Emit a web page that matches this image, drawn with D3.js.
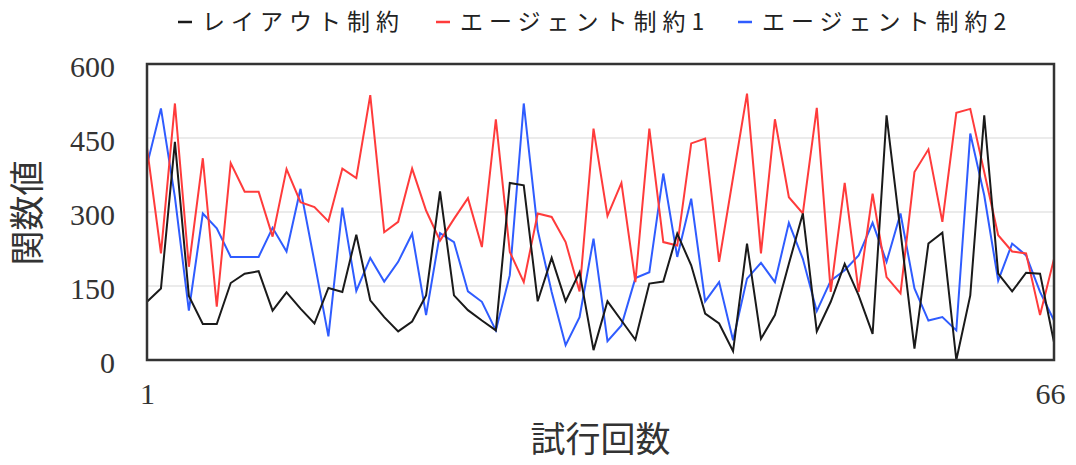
<!DOCTYPE html>
<html>
<head>
<meta charset="utf-8">
<script src="https://cdn.jsdelivr.net/npm/d3@7"></script>
<style>
  body { margin: 0; background: #fff; }
  svg { display: block; }
</style>
</head>
<body>
<div id="chart"></div>
<script>
// 試行回数 1..66
var trials = d3.range(1, 67);

var seriesNames = ["レイアウト制約", "エージェント制約1", "エージェント制約2"];
var seriesColors = ["#1a1a1a", "#ff3b3b", "#2f5cff"];

var layoutValues = [118, 145, 442, 130, 73, 73, 156, 175, 180, 100,
    137, 104, 74, 146, 138, 254, 121, 87, 58, 78,
    131, 342, 131, 101, 80, 60, 359, 354, 119, 207,
    119, 178, 20, 119, 80, 41, 155, 159, 256, 192,
    94, 74, 18, 236, 43, 91, 195, 297, 58, 118,
    195, 131, 53, 496, 260, 23, 236, 258, 0, 131,
    496, 175, 139, 177, 175, 36];

var agent1Values = [430, 216, 520, 189, 409, 108, 399, 341, 341, 250,
    387, 320, 310, 281, 388, 369, 537, 259, 280, 388,
    303, 242, 286, 328, 229, 488, 219, 158, 297, 290,
    239, 139, 469, 292, 359, 158, 469, 239, 232, 439,
    449, 199, 370, 540, 216, 488, 330, 297, 511, 138,
    359, 138, 337, 168, 135, 381, 427, 280, 501, 509,
    381, 253, 220, 216, 91, 205];

var agent2Values = [395, 510, 330, 100, 297, 267, 209, 209, 209, 268,
    220, 347, 199, 48, 309, 140, 207, 159, 199, 256,
    91, 257, 239, 139, 118, 60, 172, 520, 263, 138,
    30, 87, 246, 38, 70, 166, 178, 378, 209, 327,
    119, 158, 40, 165, 197, 158, 278, 205, 99, 161,
    182, 212, 278, 199, 297, 145, 80, 87, 60, 459,
    334, 161, 236, 212, 138, 80];

var yTicks = [0, 150, 300, 450, 600];
var xTickLabels = [1, 66];

(function () {
    "use strict";

    var W = 1076, H = 465;
    var plotLeft = 147, plotRight = 1054, plotTop = 64, plotBottom = 360;

    var svg = d3.select("#chart").append("svg")
        .attr("width", W)
        .attr("height", H);

    var x = d3.scaleLinear().domain([1, 66]).range([plotLeft, plotRight]);
    var y = d3.scaleLinear().domain([0, 600]).range([plotBottom, plotTop]);

    // gridlines
    svg.append("g")
        .selectAll("line")
        .data(yTicks.filter(function (d) { return d > 0 && d < 600; }))
        .enter().append("line")
        .attr("x1", plotLeft).attr("x2", plotRight)
        .attr("y1", function (d) { return y(d); })
        .attr("y2", function (d) { return y(d); })
        .attr("stroke", "#e4e4e4")
        .attr("stroke-width", 1.5);

    // y axis labels
    var yAxis = d3.axisLeft(y).tickValues(yTicks).tickSize(0).tickPadding(0);
    var yg = svg.append("g")
        .attr("transform", "translate(" + (plotLeft - 32) + ",0)")
        .call(yAxis);
    yg.select(".domain").remove();
    yg.selectAll("text")
        .attr("dy", "0.4em")
        .attr("fill", "#333")
        .attr("font-family", "'Liberation Serif', 'DejaVu Serif', serif")
        .attr("font-size", "30px");

    // x axis labels (only first and last)
    var xAxis = d3.axisBottom(x).tickValues(xTickLabels).tickSize(0).tickPadding(0);
    var xg = svg.append("g")
        .attr("transform", "translate(0," + (plotBottom + 32) + ")")
        .call(xAxis);
    xg.select(".domain").remove();
    xg.selectAll("text")
        .attr("dy", "0.4em")
        .attr("fill", "#333")
        .attr("font-family", "'Liberation Serif', 'DejaVu Serif', serif")
        .attr("font-size", "30px");
    xg.selectAll(".tick").filter(function (d) { return d === 66; })
        .select("text").attr("dx", "-4");

    // series lines
    var allSeries = [layoutValues, agent1Values, agent2Values];
    var line = d3.line()
        .x(function (d, i) { return x(trials[i]); })
        .y(function (d) { return y(d); });

    // blue and red first, black on top
    [2, 1, 0].forEach(function (k) {
        svg.append("path")
            .datum(allSeries[k])
            .attr("d", line)
            .attr("fill", "none")
            .attr("stroke", seriesColors[k])
            .attr("stroke-width", 2)
            .attr("stroke-linejoin", "miter");
    });

    // frame
    svg.append("rect")
        .attr("x", plotLeft).attr("y", plotTop)
        .attr("width", plotRight - plotLeft).attr("height", plotBottom - plotTop)
        .attr("fill", "none")
        .attr("stroke", "#333")
        .attr("stroke-width", 2.5);

    // legend
    var legendX = [178, 436, 738];
    var lg = svg.append("g").selectAll("g")
        .data(seriesNames)
        .enter().append("g")
        .attr("transform", function (d, i) { return "translate(" + legendX[i] + ",22)"; });
    lg.append("line")
        .attr("x1", 0).attr("x2", 14)
        .attr("y1", 0).attr("y2", 0)
        .attr("stroke", function (d, i) { return seriesColors[i]; })
        .attr("stroke-width", 2.5);
    lg.append("text")
        .attr("x", 24)
        .attr("dy", "0.35em")
        .attr("fill", "#222")
        .attr("font-family", "'Noto Sans CJK JP', sans-serif")
        .attr("font-size", "23px")
        .attr("letter-spacing", "6px")
        .text(function (d) { return d; });

    // axis titles
    svg.append("text")
        .attr("x", (plotLeft + plotRight) / 2)
        .attr("y", 440)
        .attr("text-anchor", "middle")
        .attr("dy", "0.35em")
        .attr("fill", "#333")
        .attr("font-family", "'Noto Sans CJK JP', sans-serif")
        .attr("font-size", "35px")
        .text("試行回数");

    svg.append("text")
        .attr("transform", "translate(28,213) rotate(-90)")
        .attr("text-anchor", "middle")
        .attr("dy", "0.35em")
        .attr("fill", "#333")
        .attr("font-family", "'Noto Sans CJK JP', sans-serif")
        .attr("font-size", "35px")
        .text("関数値");
})();
</script>
</body>
</html>
